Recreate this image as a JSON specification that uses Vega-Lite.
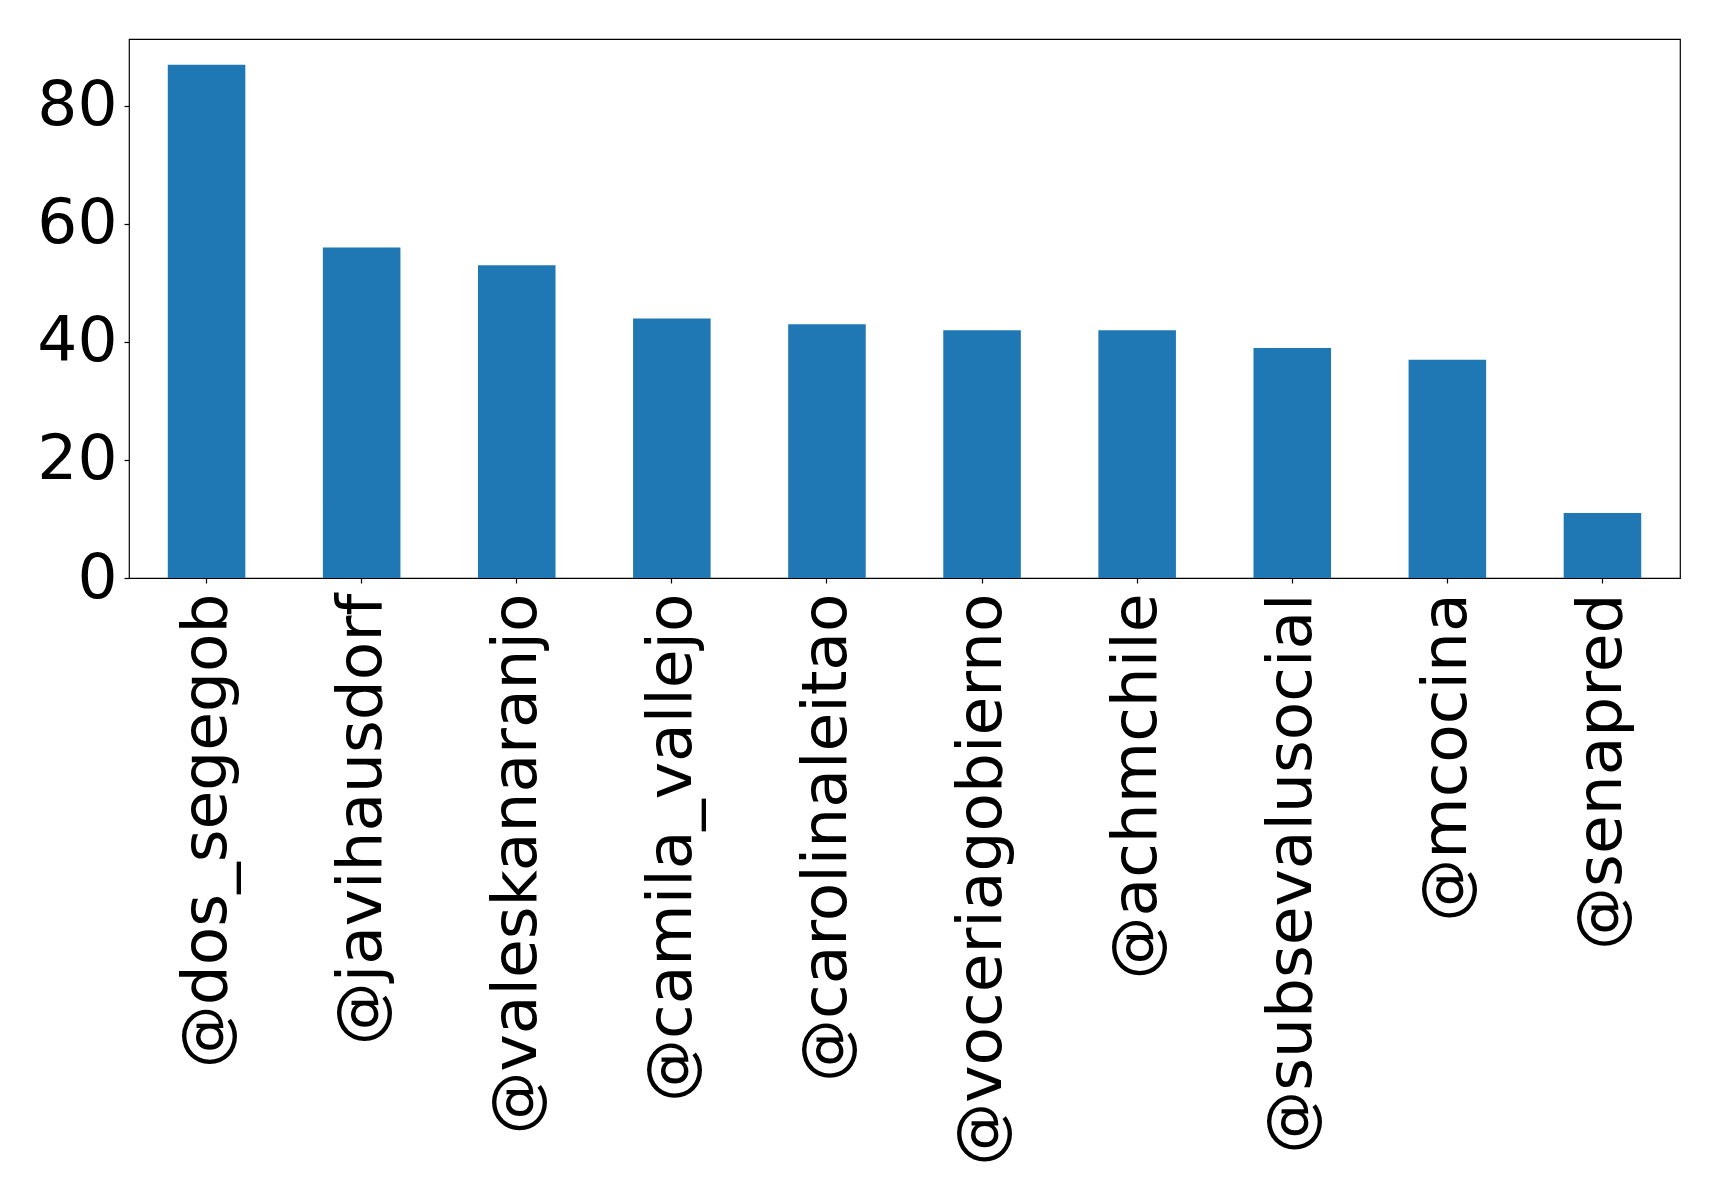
{
  "$schema": "https://vega.github.io/schema/vega-lite/v6.json",
  "autosize": "none",
  "padding": {"left": 129, "top": 39, "right": 39, "bottom": 618},
  "width": 1551,
  "height": 539,
  "background": "white",
  "config": {
    "font": "DejaVu Sans",
    "view": {"stroke": "black", "strokeWidth": 1.2},
    "axis": {"grid": false, "domain": false, "tickColor": "black", "tickSize": 5, "tickWidth": 1.2, "labelColor": "black", "labelFont": "DejaVu Sans", "labelFontSize": 63, "labelLimit": 0, "title": null}
  },
  "data": {
    "values": [
      {"user": "@dos_segegob", "count": 87},
      {"user": "@javihausdorf", "count": 56},
      {"user": "@valeskanaranjo", "count": 53},
      {"user": "@camila_vallejo", "count": 44},
      {"user": "@carolinaleitao", "count": 43},
      {"user": "@voceriagobierno", "count": 42},
      {"user": "@achmchile", "count": 42},
      {"user": "@subsevalusocial", "count": 39},
      {"user": "@mcocina", "count": 37},
      {"user": "@senapred", "count": 11}
    ]
  },
  "mark": {"type": "bar", "color": "#1f77b4"},
  "encoding": {
    "x": {
      "field": "user", "type": "nominal", "sort": null,
      "scale": {"paddingInner": 0.5, "paddingOuter": 0.25},
      "axis": {"labelAngle": -90, "labelPadding": 10}
    },
    "y": {
      "field": "count", "type": "quantitative",
      "scale": {"domain": [0, 91.35], "nice": false, "zero": true},
      "axis": {"values": [0, 20, 40, 60, 80], "labelPadding": 7}
    }
  }
}
